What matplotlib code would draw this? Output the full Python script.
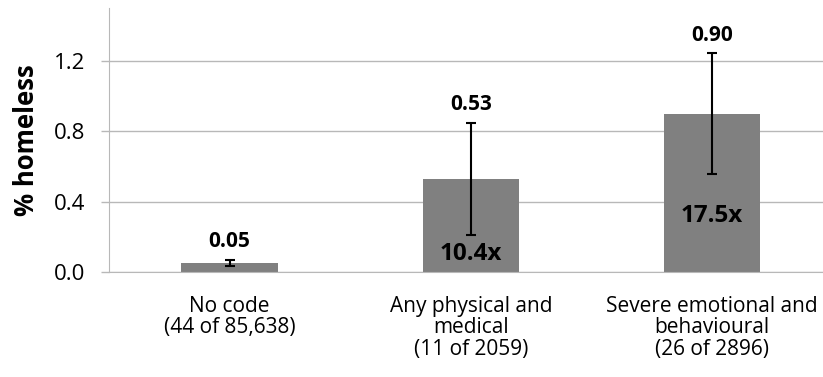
import numpy as np
import matplotlib.pyplot as plt

plt.rcParams['font.family'] = ['Open Sans', 'DejaVu Sans']

categories = ['No code\n(44 of 85,638)',
              'Any physical and\nmedical\n(11 of 2059)',
              'Severe emotional and\nbehavioural\n(26 of 2896)']
pct_homeless = [0.05, 0.53, 0.90]
ci_low = [0.034, 0.21, 0.554]
ci_high = [0.069, 0.847, 1.244]
value_labels = ['0.05', '0.53', '0.90']
ratio_labels = ['', '10.4x', '17.5x']
ratio_y = [0, 0.10, 0.32]

fig = plt.figure(figsize=(8.23, 3.77), dpi=100)
ax = fig.add_axes([109 / 823, 105 / 377, 714 / 823, 264 / 377])

x = np.arange(len(categories))
vals = np.array(pct_homeless)
yerr = np.array([vals - np.array(ci_low), np.array(ci_high) - vals])

ax.bar(x, vals, width=0.4, color='#808080', zorder=2)
ax.errorbar(x, vals, yerr=yerr, fmt='none', ecolor='black', elinewidth=1.5,
            capsize=3.5, capthick=1.5, zorder=3)

for i in range(len(x)):
    ax.annotate(value_labels[i], (x[i], ci_high[i]), xytext=(0, 13),
                textcoords='offset points', ha='center', va='center',
                fontsize=15, fontweight='bold')
    if ratio_labels[i]:
        ax.text(x[i], ratio_y[i], ratio_labels[i], ha='center', va='center',
                fontsize=17.5, fontweight='bold')

ax.set_xlim(-0.5, 2.46)
ax.set_ylim(0, 1.5)
ax.set_yticks([0.0, 0.4, 0.8, 1.2])
ax.set_yticklabels(['0.0', '0.4', '0.8', '1.2'])
ax.set_xticks(x)
ax.set_xticklabels(categories, fontsize=15, linespacing=1.05)
ax.tick_params(axis='y', labelsize=16, length=6, width=1, color='#b8b8b8',
               pad=11)
ax.tick_params(axis='x', length=0, pad=17)

ax.yaxis.grid(True, color='#b8b8b8', linewidth=1, zorder=0)
ax.set_axisbelow(True)
for side in ['top', 'right']:
    ax.spines[side].set_visible(False)
ax.spines['left'].set_color('#b8b8b8')
ax.spines['bottom'].set_color('#b8b8b8')

ax.set_ylabel('% homeless', fontsize=18.5, fontweight='bold')
ax.yaxis.set_label_coords(-0.096, 0.5)

fig.savefig('out.png', dpi=100)
